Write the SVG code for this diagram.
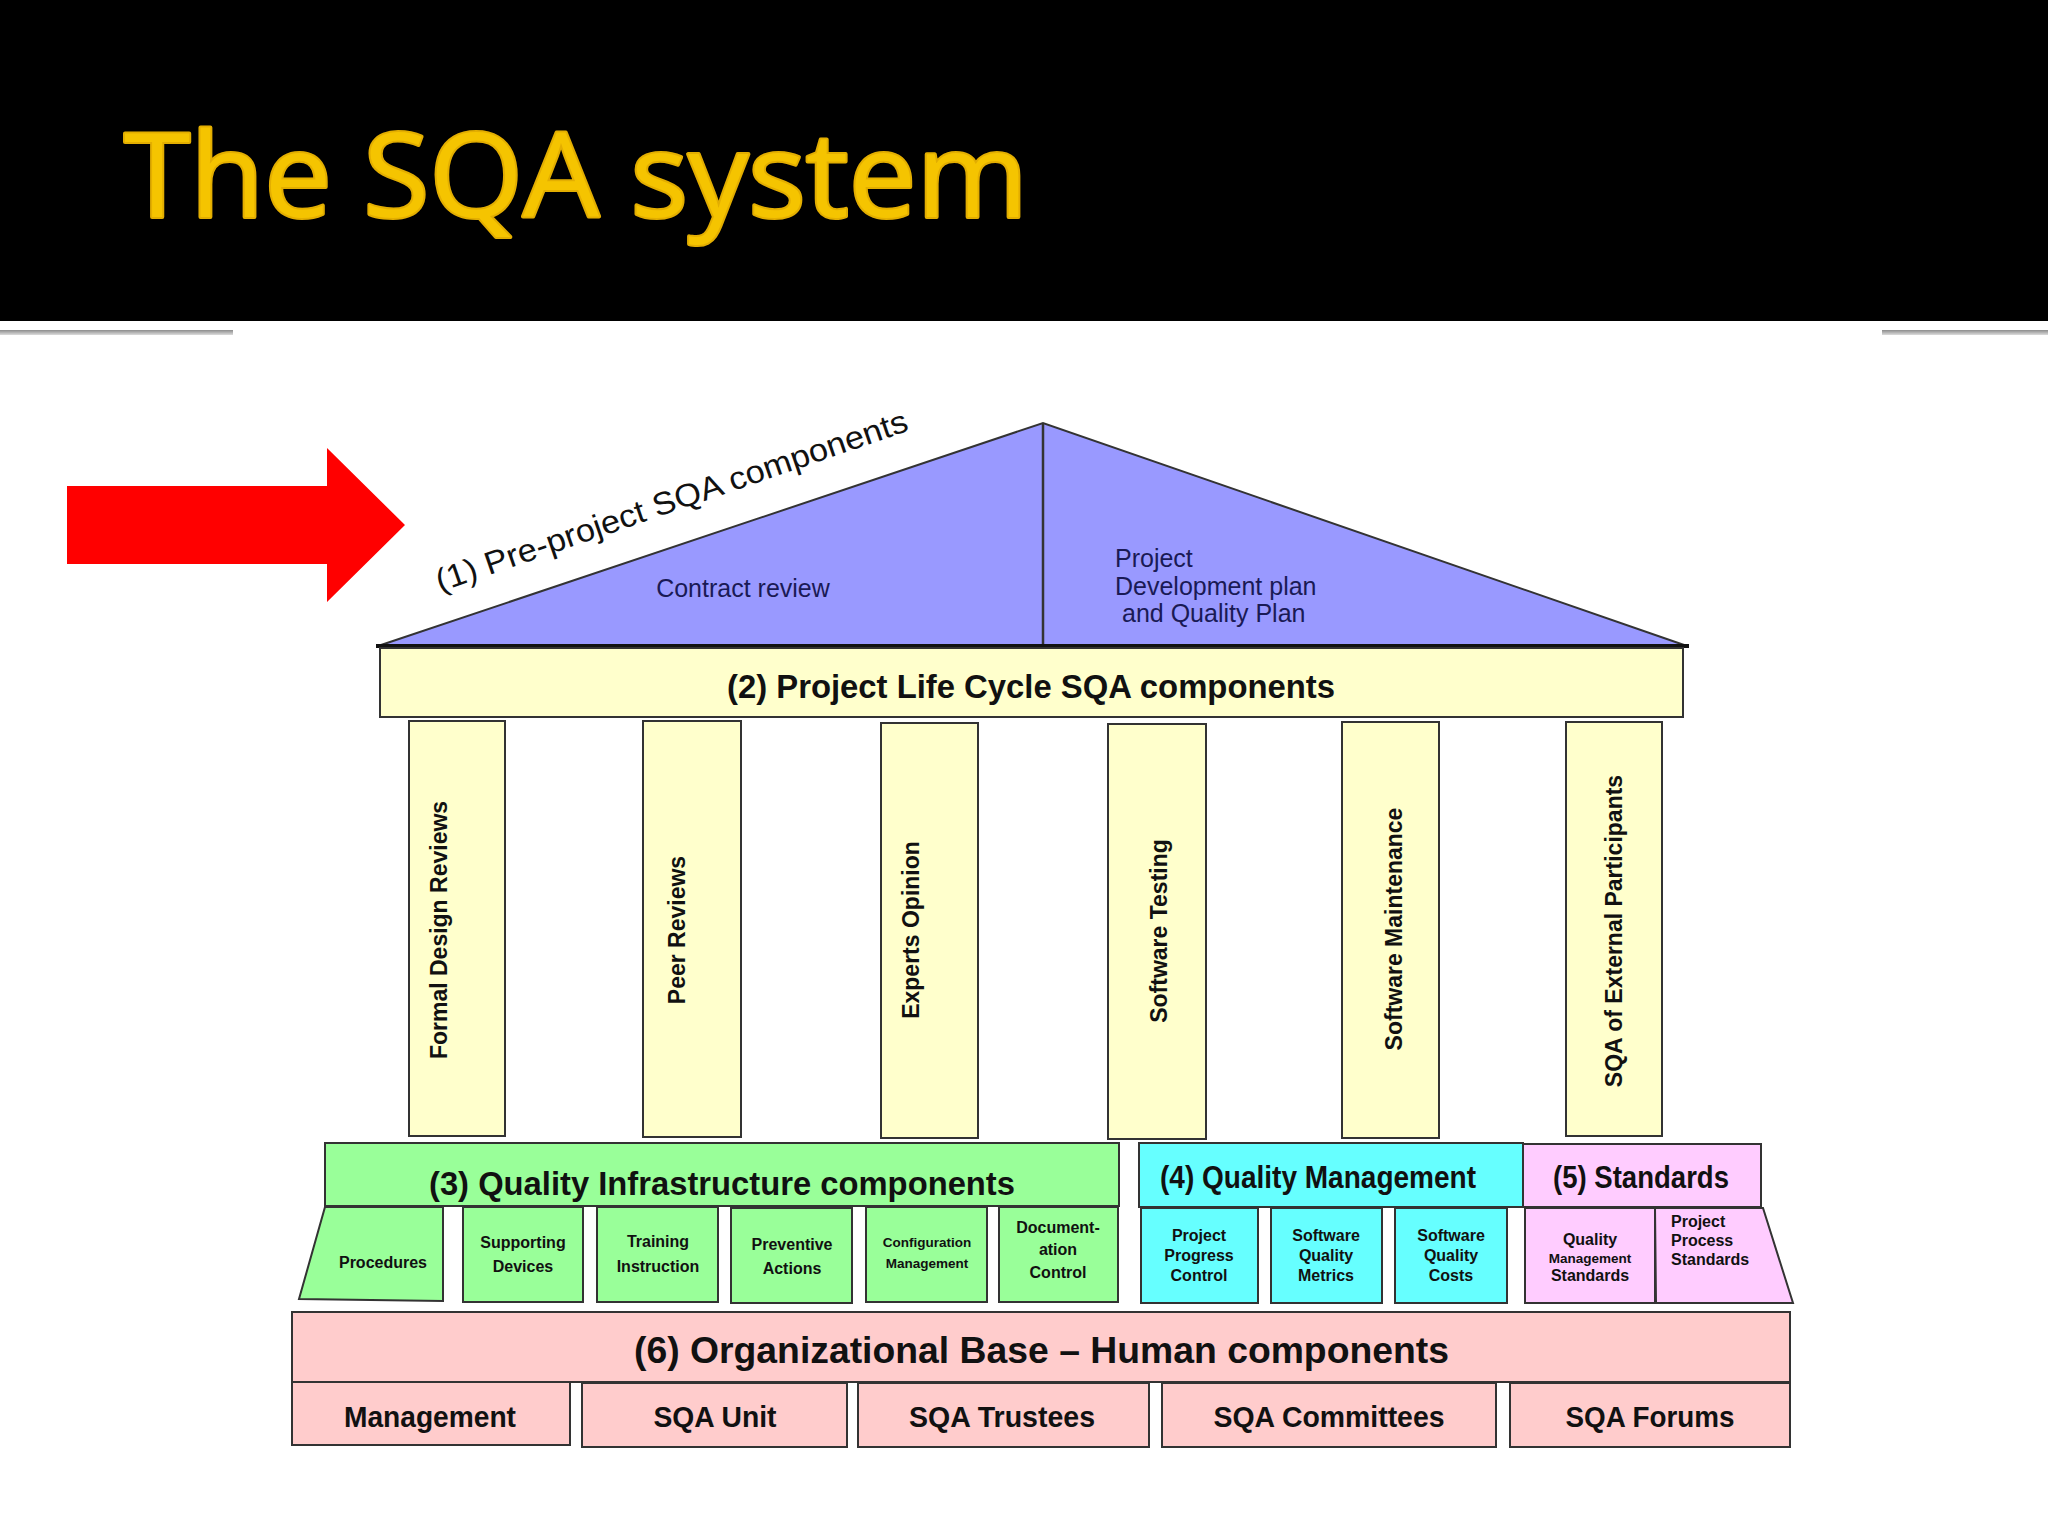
<svg xmlns="http://www.w3.org/2000/svg" width="2048" height="1536" viewBox="0 0 2048 1536">
<defs>
<linearGradient id="rule" x1="0" y1="0" x2="0" y2="1"><stop offset="0" stop-color="#8c8c8c"/><stop offset="1" stop-color="#dcdcdc"/></linearGradient>
</defs>
<style>
.t{font-family:"Liberation Sans",Arial,sans-serif;fill:#111}
.b{font-weight:bold}
.c{text-anchor:middle}
.box{stroke:#333;stroke-width:2}
.yel{fill:#FFFFCC}
.grn{fill:#99FF99}
.cyn{fill:#66FFFF}
.mag{fill:#FFCCFF}
.pnk{fill:#FFCCCC}
.navy{fill:#1A1A55}
.sm{font-size:16px}
.xs{font-size:13.5px}
.pl{font-size:23px}
.bt{font-size:29px}
</style>
<rect x="0" y="0" width="2048" height="1536" fill="#FFFFFF"/>
<g id="header">
<rect x="0" y="0" width="2048" height="321" fill="#000000"/>
<text x="124" y="217" font-family="'Open Sans',Lato,sans-serif" font-size="118" fill="#F5C400" stroke="#E3AE00" stroke-width="4" stroke-linejoin="round" paint-order="stroke" textLength="904" lengthAdjust="spacingAndGlyphs">The SQA system</text>
<rect x="0" y="330" width="233" height="5" fill="url(#rule)"/>
<rect x="1882" y="330" width="166" height="5" fill="url(#rule)"/>
</g>
<g id="arrow">
<polygon points="67,486 327,486 327,448 405,525 327,602 327,564 67,564" fill="#FF0000"/>
</g>
<g id="roof">
<polygon points="378,646 1043,423 1687,646" fill="#9999FF" stroke="#333" stroke-width="2"/>
<line x1="1043" y1="423" x2="1043" y2="646" stroke="#333" stroke-width="2.5"/>
<line x1="376" y1="646" x2="1689" y2="646" stroke="#111" stroke-width="4"/>
<text class="t" transform="translate(440,592) rotate(-19)" font-size="32" textLength="497" lengthAdjust="spacingAndGlyphs">(1) Pre-project SQA components</text>
<text class="t navy c" x="743" y="597" font-size="25">Contract review</text>
<text class="t navy" x="1115" y="567" font-size="25">Project</text>
<text class="t navy" x="1115" y="595" font-size="25">Development plan</text>
<text class="t navy" x="1122" y="622" font-size="25">and Quality  Plan</text>
</g>
<g id="lifecycle">
<rect class="box yel" x="380" y="648" width="1303" height="69"/>
<text class="t b" x="727" y="698" font-size="33" textLength="608" lengthAdjust="spacingAndGlyphs">(2) Project Life Cycle SQA components</text>
</g>
<g id="pillar-formal-design-reviews">
<rect class="box yel" x="409" y="721" width="96" height="415"/>
<text class="t b pl c" transform="translate(447,930) rotate(-90)">Formal Design Reviews</text>
</g>
<g id="pillar-peer-reviews">
<rect class="box yel" x="643" y="721" width="98" height="416"/>
<text class="t b pl c" transform="translate(685,930) rotate(-90)">Peer Reviews</text>
</g>
<g id="pillar-experts-opinion">
<rect class="box yel" x="881" y="723" width="97" height="415"/>
<text class="t b pl c" transform="translate(919,930) rotate(-90)">Experts Opinion</text>
</g>
<g id="pillar-software-testing">
<rect class="box yel" x="1108" y="724" width="98" height="415"/>
<text class="t b pl c" transform="translate(1167,931) rotate(-90)">Software Testing</text>
</g>
<g id="pillar-software-maintenance">
<rect class="box yel" x="1342" y="722" width="97" height="416"/>
<text class="t b pl c" transform="translate(1402,929) rotate(-90)">Software Maintenance</text>
</g>
<g id="pillar-sqa-external">
<rect class="box yel" x="1566" y="722" width="96" height="414"/>
<text class="t b pl c" transform="translate(1622,931) rotate(-90)">SQA of External Participants</text>
</g>
<g id="infrastructure">
<rect class="box grn" x="325" y="1143" width="794" height="63"/>
<text class="t b" x="429" y="1195" font-size="34" textLength="586" lengthAdjust="spacingAndGlyphs">(3) Quality Infrastructure components</text>
</g>
<g id="procedures">
<polygon class="box grn" points="325,1207 443,1207 443,1301 299,1299"/>
<text class="t b sm c" x="383" y="1268">Procedures</text>
</g>
<g id="supporting-devices">
<rect class="box grn" x="463" y="1207" width="120" height="95"/>
<text class="t b sm c" x="523" y="1248">Supporting</text>
<text class="t b sm c" x="523" y="1272">Devices</text>
</g>
<g id="training-instruction">
<rect class="box grn" x="597" y="1207" width="121" height="95"/>
<text class="t b sm c" x="658" y="1247">Training</text>
<text class="t b sm c" x="658" y="1272">Instruction</text>
</g>
<g id="preventive-actions">
<rect class="box grn" x="731" y="1208" width="121" height="95"/>
<text class="t b sm c" x="792" y="1250">Preventive</text>
<text class="t b sm c" x="792" y="1274">Actions</text>
</g>
<g id="configuration-management">
<rect class="box grn" x="866" y="1207" width="121" height="95"/>
<text class="t b xs c" x="927" y="1247">Configuration</text>
<text class="t b xs c" x="927" y="1268">Management</text>
</g>
<g id="documentation-control">
<rect class="box grn" x="999" y="1207" width="119" height="95"/>
<text class="t b sm c" x="1058" y="1233">Document-</text>
<text class="t b sm c" x="1058" y="1255">ation</text>
<text class="t b sm c" x="1058" y="1278">Control</text>
</g>
<g id="quality-management">
<rect class="box cyn" x="1139" y="1143" width="384" height="64"/>
<text class="t b" x="1160" y="1188" font-size="32" textLength="316" lengthAdjust="spacingAndGlyphs">(4) Quality Management</text>
</g>
<g id="project-progress-control">
<rect class="box cyn" x="1141" y="1208" width="117" height="95"/>
<text class="t b sm c" x="1199" y="1241">Project</text>
<text class="t b sm c" x="1199" y="1261">Progress</text>
<text class="t b sm c" x="1199" y="1281">Control</text>
</g>
<g id="software-quality-metrics">
<rect class="box cyn" x="1271" y="1208" width="111" height="95"/>
<text class="t b sm c" x="1326" y="1241">Software</text>
<text class="t b sm c" x="1326" y="1261">Quality</text>
<text class="t b sm c" x="1326" y="1281">Metrics</text>
</g>
<g id="software-quality-costs">
<rect class="box cyn" x="1395" y="1208" width="112" height="95"/>
<text class="t b sm c" x="1451" y="1241">Software</text>
<text class="t b sm c" x="1451" y="1261">Quality</text>
<text class="t b sm c" x="1451" y="1281">Costs</text>
</g>
<g id="standards">
<rect class="box mag" x="1523" y="1144" width="238" height="63"/>
<text class="t b" x="1553" y="1188" font-size="32" textLength="176" lengthAdjust="spacingAndGlyphs">(5) Standards</text>
</g>
<g id="quality-management-standards">
<rect class="box mag" x="1525" y="1208" width="130" height="95"/>
<text class="t b sm c" x="1590" y="1245">Quality</text>
<text class="t b xs c" x="1590" y="1263">Management</text>
<text class="t b sm c" x="1590" y="1281">Standards</text>
</g>
<g id="project-process-standards">
<polygon class="box mag" points="1655,1208 1763,1208 1793,1303 1656,1303"/>
<text class="t b sm" x="1671" y="1227">Project</text>
<text class="t b sm" x="1671" y="1246">Process</text>
<text class="t b sm" x="1671" y="1265">Standards</text>
</g>
<g id="organizational-base">
<rect class="box pnk" x="292" y="1312" width="1498" height="70"/>
<text class="t b" x="634" y="1363" font-size="37" textLength="815" lengthAdjust="spacingAndGlyphs">(6) Organizational Base – Human components</text>
</g>
<g id="management">
<rect class="box pnk" x="292" y="1382" width="278" height="63"/>
<text class="t b bt c" x="430" y="1427" textLength="172" lengthAdjust="spacingAndGlyphs">Management</text>
</g>
<g id="sqa-unit">
<rect class="box pnk" x="582" y="1383" width="265" height="64"/>
<text class="t b bt c" x="715" y="1427" textLength="123" lengthAdjust="spacingAndGlyphs">SQA Unit</text>
</g>
<g id="sqa-trustees">
<rect class="box pnk" x="858" y="1383" width="291" height="64"/>
<text class="t b bt c" x="1002" y="1427" textLength="186" lengthAdjust="spacingAndGlyphs">SQA Trustees</text>
</g>
<g id="sqa-committees">
<rect class="box pnk" x="1162" y="1383" width="334" height="64"/>
<text class="t b bt c" x="1329" y="1427" textLength="231" lengthAdjust="spacingAndGlyphs">SQA Committees</text>
</g>
<g id="sqa-forums">
<rect class="box pnk" x="1510" y="1383" width="280" height="64"/>
<text class="t b bt c" x="1650" y="1427" textLength="169" lengthAdjust="spacingAndGlyphs">SQA Forums</text>
</g>
<g id="connectors"></g>
</svg>
